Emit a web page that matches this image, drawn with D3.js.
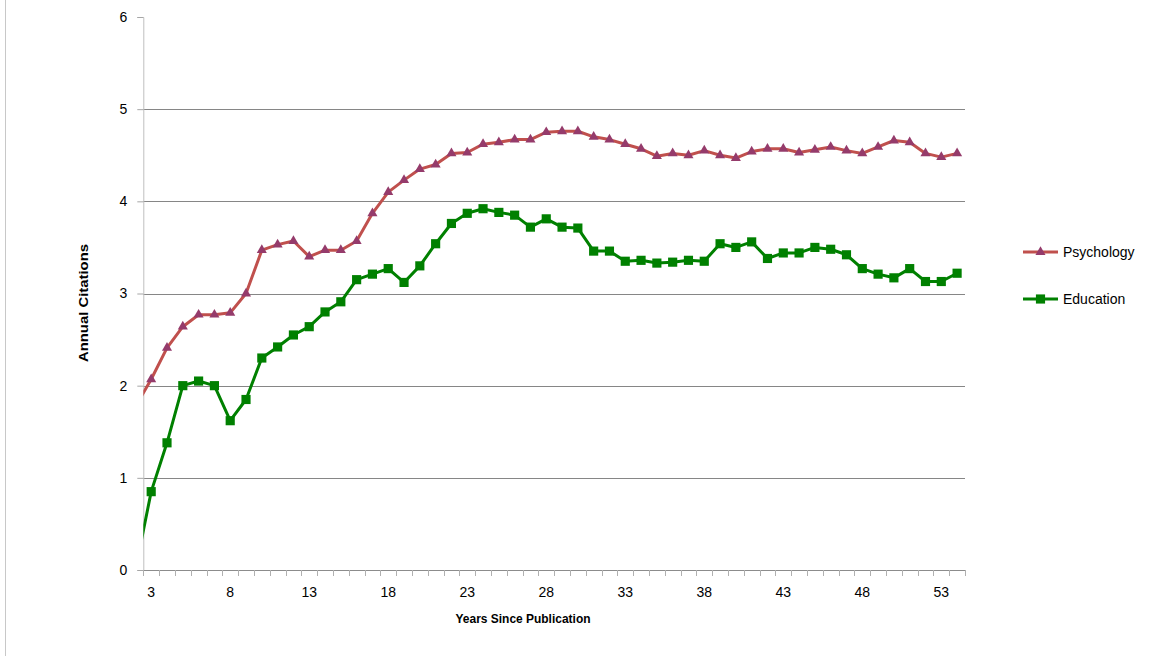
<!DOCTYPE html>
<html>
<head>
<meta charset="utf-8">
<script src="https://cdn.jsdelivr.net/npm/d3@7"></script>
<style>
  html, body { margin: 0; padding: 0; background: #fff; }
  svg { display: block; }
  text { font-family: "Liberation Sans", Arial, sans-serif; fill: #000; }
</style>
</head>
<body>
<svg id="chart" width="1156" height="656"></svg>
<script>
// ---- data ----
const years = [2,3,4,5,6,7,8,9,10,11,12,13,14,15,16,17,18,19,20,21,22,23,24,25,26,27,28,29,30,31,32,33,34,35,36,37,38,39,40,41,42,43,44,45,46,47,48,49,50,51,52,53,54];
const psychology = [1.77,2.07,2.41,2.64,2.77,2.77,2.79,3.00,3.47,3.53,3.57,3.40,3.47,3.47,3.57,3.87,4.10,4.23,4.35,4.40,4.52,4.53,4.62,4.64,4.67,4.67,4.75,4.76,4.76,4.70,4.67,4.62,4.57,4.49,4.52,4.50,4.55,4.50,4.47,4.54,4.57,4.57,4.53,4.56,4.59,4.55,4.52,4.59,4.66,4.64,4.52,4.48,4.52];
const education = [0.00,0.85,1.38,2.00,2.05,2.00,1.62,1.85,2.30,2.42,2.55,2.64,2.80,2.91,3.15,3.21,3.27,3.12,3.30,3.54,3.76,3.87,3.92,3.88,3.85,3.72,3.81,3.72,3.71,3.46,3.46,3.35,3.36,3.33,3.34,3.36,3.35,3.54,3.50,3.56,3.38,3.44,3.44,3.50,3.48,3.42,3.27,3.21,3.17,3.27,3.13,3.13,3.22];
const xTickLabels = [3,8,13,18,23,28,33,38,43,48,53];
const yTickValues = [0,1,2,3,4,5,6];
const seriesNames = ["Psychology","Education"];

// ---- layout ----
const plotLeft = 143.3, plotRight = 965, plotTop = 17, plotBottom = 570;
const svg = d3.select("#chart");

const x = d3.scaleLinear().domain([2.5, 54.5]).range([plotLeft, plotRight]);
const y = d3.scaleLinear().domain([0, 6]).range([plotBottom, plotTop]);

// frame line at left
svg.append("line").attr("x1", 5.5).attr("x2", 5.5).attr("y1", 0).attr("y2", 656)
  .attr("stroke", "#c8c8c8").attr("stroke-width", 1);

// gridlines
svg.append("g").selectAll("line").data(yTickValues.filter(v => v > 0 && v < 6)).join("line")
  .attr("x1", plotLeft).attr("x2", plotRight)
  .attr("y1", d => Math.round(y(d)) + 0.5).attr("y2", d => Math.round(y(d)) + 0.5)
  .attr("stroke", "#868686").attr("stroke-width", 1);

// y axis
const yAxis = d3.axisLeft(y).tickValues(yTickValues).tickSize(6).tickPadding(10).tickFormat(d3.format("d"));
const gy = svg.append("g").attr("transform", `translate(${plotLeft},0)`).call(yAxis);
gy.select(".domain").attr("stroke", "#bfbfbf");
gy.selectAll(".tick line").attr("stroke", "#a6a6a6");
gy.selectAll(".tick text").style("font-size", "14px").attr("font-family", "Liberation Sans, Arial, sans-serif");

// x axis: tick marks at category boundaries, labels at centers
const boundaries = d3.range(2.5, 54.6, 1);
const gx = svg.append("g").attr("transform", `translate(0,${plotBottom})`);
gx.append("line").attr("x1", plotLeft).attr("x2", plotRight).attr("y1", 0.5).attr("y2", 0.5)
  .attr("stroke", "#8c8c8c");
gx.selectAll("line.tk").data(boundaries).join("line").attr("class", "tk")
  .attr("x1", d => Math.round(x(d)) + 0.5).attr("x2", d => Math.round(x(d)) + 0.5)
  .attr("y1", 0).attr("y2", 6).attr("stroke", "#b0b0b0");
gx.selectAll("text").data(xTickLabels).join("text")
  .attr("x", d => x(d)).attr("y", 27)
  .attr("text-anchor", "middle").style("font-size", "14px").text(d => d);

// axis titles
svg.append("text").attr("x", 523).attr("y", 623).attr("text-anchor", "middle")
  .attr("textLength", 135).attr("lengthAdjust", "spacingAndGlyphs")
  .style("font-size", "13px").style("font-weight", "bold").text("Years Since Publication");
svg.append("text").attr("transform", "translate(88,303) rotate(-90)").attr("text-anchor", "middle")
  .attr("textLength", 118).attr("lengthAdjust", "spacingAndGlyphs")
  .style("font-size", "13px").style("font-weight", "bold").text("Annual Citations");

// clip
svg.append("clipPath").attr("id", "plotclip").append("rect")
  .attr("x", plotLeft).attr("y", 0).attr("width", plotRight - plotLeft).attr("height", plotBottom);

const line = d3.line().x((d, i) => x(years[i])).y(d => y(d));
const series = [
  { name: seriesNames[0], values: psychology, lineColor: "#C0504D", markColor: "#953B6B", symbol: d3.symbolTriangle, size: 44 },
  { name: seriesNames[1], values: education, lineColor: "#008000", markColor: "#008000", symbol: d3.symbolSquare, size: 84 }
];

const plot = svg.append("g").attr("clip-path", "url(#plotclip)");
series.forEach(s => {
  plot.append("path").datum(s.values).attr("d", line)
    .attr("fill", "none").attr("stroke", s.lineColor).attr("stroke-width", 3)
    .attr("stroke-linejoin", "round");
});
series.forEach(s => {
  const pts = s.values.map((v, i) => ({ yr: years[i], v })).filter(p => p.yr >= 3);
  svg.append("g").selectAll("path").data(pts).join("path")
    .attr("d", d3.symbol().type(s.symbol).size(s.size))
    .attr("transform", d => `translate(${x(d.yr)},${y(d.v)})`)
    .attr("fill", s.markColor);
});

// legend
const legendY = [252, 299];
series.forEach((s, i) => {
  const g = svg.append("g").attr("transform", `translate(1023,${legendY[i]})`);
  g.append("line").attr("x1", 0).attr("x2", 35).attr("stroke", s.lineColor).attr("stroke-width", 3);
  g.append("path").attr("d", d3.symbol().type(s.symbol).size(s.size)).attr("transform", "translate(17.5,0)")
    .attr("fill", s.markColor);
  g.append("text").attr("x", 40).attr("y", 5).style("font-size", "14px").text(s.name);
});
</script>
</body>
</html>
